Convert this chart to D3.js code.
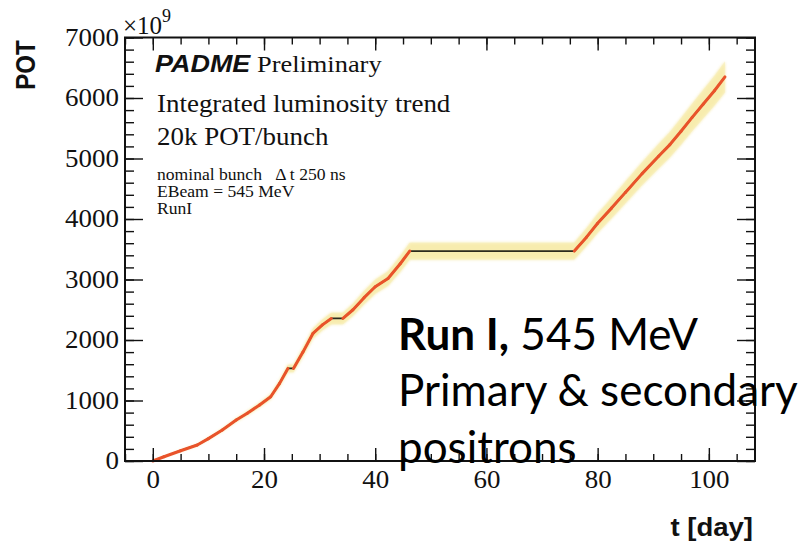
<!DOCTYPE html>
<html>
<head>
<meta charset="utf-8">
<script src="https://cdn.jsdelivr.net/npm/d3@7"></script>
<style>
  html, body { margin: 0; padding: 0; background: #ffffff; }
  svg { display: block; }
</style>
</head>
<body>
<script>
// ---------------- data ----------------
const days = [0, 2, 5, 8, 10, 12.5, 15, 17, 19.2, 21.2, 22.8, 24.3, 25.3, 27, 28.8, 30.5, 32.1, 34.2, 36, 38,
              40, 42.3, 44.5, 46.2, 75.8, 78, 80, 82.5, 85, 88, 91, 93, 95, 97, 99, 101, 102.9];
const pot  = [0, 70, 170, 265, 370, 512, 677, 790, 925, 1062, 1283, 1530, 1530, 1800, 2108, 2250, 2356, 2356, 2500, 2700,
              2880, 3016, 3260, 3470, 3470, 3700, 3930, 4180, 4440, 4750, 5040, 5230, 5450, 5680, 5900, 6120, 6350];
const potErr = [0, 3, 7, 11, 15, 20, 27, 32, 37, 42, 51, 61, 61, 72, 84, 90, 94, 94, 100, 108,
                115, 121, 130, 139, 139, 148, 157, 167, 178, 190, 202, 209, 218, 227, 236, 245, 254];

const xMajorTicks = [0, 20, 40, 60, 80, 100];
const xMinorTicks = d3.range(-5, 108, 5);
const yMajorTicks = [0, 1000, 2000, 3000, 4000, 5000, 6000, 7000];
const yMinorTicks = d3.range(0, 7001, 200);

const xLabel = "t [day]";
const yLabel = "POT";
const yExponent = "9";
const infoLines = ["Integrated luminosity trend", "20k POT/bunch"];
const smallLines = ["nominal bunch   \u0394 t 250 ns", "EBeam = 545 MeV", "RunI"];

// ---------------- layout ----------------
const W = 810, H = 544;
const L = 125, R = 755, T = 37.5, B = 461;
const SX = 1.1; // horizontal stretch of the original picture's text

const svg = d3.select("body").append("svg").attr("width", W).attr("height", H);
svg.append("rect").attr("width", W).attr("height", H).attr("fill", "#ffffff");

const defs = svg.append("defs");
defs.append("filter").attr("id", "soft").attr("x", "-10%").attr("y", "-10%").attr("width", "120%").attr("height", "120%")
  .append("feGaussianBlur").attr("stdDeviation", 1.6);

const x = d3.scaleLinear().domain([-5, 108.3]).range([L, R]);
const y = d3.scaleLinear().domain([0, 7000]).range([B, T]);

const data = days.map((d, i) => ({ t: d, v: pot[i], e: potErr[i] }));

// uncertainty band
const area = d3.area().x(d => x(d.t)).y0(d => y(d.v - d.e)).y1(d => y(d.v + d.e));
svg.append("path").datum(data).attr("d", area)
  .attr("fill", "#f4e596").attr("opacity", 0.85).attr("filter", "url(#soft)");
svg.append("path").datum(data).attr("d", area)
  .attr("fill", "#f8eeb4").attr("opacity", 0.6);

// central dark line
const line = d3.line().x(d => x(d.t)).y(d => y(d.v));
svg.append("path").datum(data).attr("d", line)
  .attr("fill", "none").attr("stroke", "#2b2a1c").attr("stroke-width", 1.8);

// orange data line on rising segments
const segs = [];
for (let i = 0; i < data.length - 1; i++) {
  if (data[i].v !== data[i + 1].v) segs.push([data[i], data[i + 1]]);
}
svg.append("g").selectAll("path").data(segs).join("path")
  .attr("d", line)
  .attr("fill", "none").attr("stroke", "#e9532a").attr("stroke-width", 3)
  .attr("stroke-linecap", "round");

// ---------------- axes ----------------
function styleAxis(g) {
  g.select(".domain").remove();
  g.selectAll(".tick line").attr("stroke", "#111").attr("stroke-width", 1.4);
}
// bottom
svg.append("g").attr("transform", `translate(0,${B})`)
  .call(d3.axisBottom(x).tickValues(xMinorTicks).tickSize(-7).tickFormat(""))
  .call(styleAxis);
const gxb = svg.append("g").attr("transform", `translate(0,${B})`)
  .call(d3.axisBottom(x).tickValues(xMajorTicks).tickSize(-13).tickPadding(10).tickFormat(d3.format("d")))
  .call(styleAxis);
// top
svg.append("g").attr("transform", `translate(0,${T})`)
  .call(d3.axisTop(x).tickValues(xMinorTicks).tickSize(-7).tickFormat(""))
  .call(styleAxis);
svg.append("g").attr("transform", `translate(0,${T})`)
  .call(d3.axisTop(x).tickValues(xMajorTicks).tickSize(-13).tickFormat(""))
  .call(styleAxis);
// left
svg.append("g").attr("transform", `translate(${L},0)`)
  .call(d3.axisLeft(y).tickValues(yMinorTicks).tickSize(-9).tickFormat(""))
  .call(styleAxis);
const gyl = svg.append("g").attr("transform", `translate(${L},0)`)
  .call(d3.axisLeft(y).tickValues(yMajorTicks).tickSize(-18).tickPadding(6).tickFormat(d3.format("d")))
  .call(styleAxis);
// right
svg.append("g").attr("transform", `translate(${R},0)`)
  .call(d3.axisRight(y).tickValues(yMinorTicks).tickSize(-9).tickFormat(""))
  .call(styleAxis);
svg.append("g").attr("transform", `translate(${R},0)`)
  .call(d3.axisRight(y).tickValues(yMajorTicks).tickSize(-18).tickFormat(""))
  .call(styleAxis);

[gxb, gyl].forEach(g => g.selectAll(".tick text")
  .attr("font-family", "'Liberation Serif', 'Times New Roman', serif")
  .attr("font-size", 24.5).attr("fill", "#111")
  .attr("transform", `scale(${SX},1)`));
gyl.selectAll(".tick text").attr("x", -6 / SX);

// frame
svg.append("rect").attr("x", L).attr("y", T).attr("width", R - L).attr("height", B - T)
  .attr("fill", "none").attr("stroke", "#111").attr("stroke-width", 2);

// ---------------- texts ----------------
function sText(xp, yp, str, opts) {
  const t = svg.append("text")
    .attr("transform", `translate(${xp},${yp}) scale(${opts.sx || SX},1)`)
    .attr("font-family", opts.family || "'Liberation Serif', 'Times New Roman', serif")
    .attr("font-size", opts.size || 23)
    .attr("font-weight", opts.weight || "normal")
    .attr("font-style", opts.style || "normal")
    .attr("text-anchor", opts.anchor || "start")
    .attr("fill", opts.fill || "#111")
    .attr("xml:space", "preserve")
    .text(str);
  return t;
}

// x10^9
const ex = sText(123, 34, "\u00d710", { size: 25, sx: 1.0 });
ex.append("tspan").attr("dy", -12).attr("font-size", 18).text(yExponent);

// y label
svg.append("text")
  .attr("transform", `translate(35,65) rotate(-90) scale(1,1.15)`)
  .attr("text-anchor", "middle")
  .attr("font-family", "'Liberation Sans', Arial, sans-serif")
  .attr("font-weight", "bold").attr("font-size", 24).attr("fill", "#111")
  .text(yLabel);

// x label
sText(753, 536, xLabel, { family: "'Liberation Sans', Arial, sans-serif", weight: "bold", size: 25, anchor: "end" });

// PADME Preliminary
sText(155, 72, "PADME", { family: "'Liberation Sans', Arial, sans-serif", weight: "bold", style: "italic", size: 24.5 });
sText(257, 72, "Preliminary", { size: 24 });
infoLines.forEach((s, i) => sText(157, 112 + i * 33, s, { size: 24.5 }));
smallLines.forEach((s, i) => sText(157, 180 + i * 17, s, { size: 16 }));

// slide overlay text
const ov = svg.append("text")
  .attr("font-family", "Lato, 'Open Sans', sans-serif")
  .attr("font-size", 44).attr("fill", "#000");
const l1 = ov.append("tspan").attr("x", 398).attr("y", 350);
l1.append("tspan").attr("font-weight", "bold").text("Run I,");
l1.append("tspan").text(" 545 MeV");
ov.append("tspan").attr("x", 398).attr("y", 406).text("Primary & secondary");
ov.append("tspan").attr("x", 398).attr("y", 463).text("positrons");
</script>
</body>
</html>
